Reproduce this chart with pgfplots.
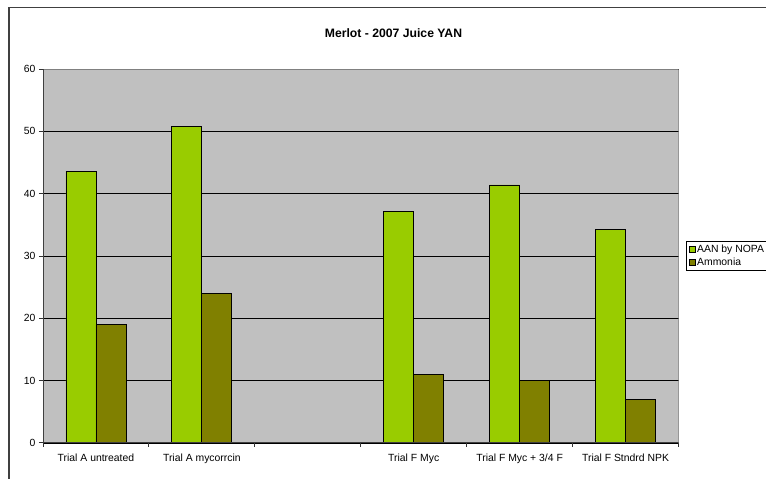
\documentclass[border=0pt]{standalone}
\usepackage{fontspec}
\setmainfont{Liberation Sans}
\usepackage{pgfplots}
\pgfplotsset{compat=1.18}
\definecolor{aangreen}{HTML}{99CC00}
\definecolor{ammolive}{HTML}{808000}
\definecolor{plotgray}{HTML}{C0C0C0}
\definecolor{bordergray}{HTML}{808080}

\begin{document}
\begin{tikzpicture}
\useasboundingbox (0bp,0bp) rectangle (766bp,479bp);
\fill[white] (0bp,0bp) rectangle (766bp,479bp);
% chart frame
\draw[line width=1.5bp, color=black!75] (9bp,-10bp) -- (9bp,471.5bp) -- (800bp,471.5bp);
% chart title
\node[anchor=base, inner sep=0pt, font=\bfseries\fontsize{12.2bp}{14bp}\selectfont]
  at (393.5bp,441.7bp) {Merlot - 2007 Juice YAN};
\begin{axis}[
  at={(43bp,36bp)}, anchor=south west,
  scale only axis, width=635.5bp, height=374bp,
  xmin=-0.5, xmax=5.5, ymin=0, ymax=60,
  ybar=0pt, bar width=30bp,
  xtick={-0.5,0.5,...,5.5},
  x tick label as interval,
  xticklabels={Trial A untreated, Trial A mycorrcin, {}, Trial F Myc, Trial F Myc + 3/4 F, Trial F Stndrd NPK},
  xticklabel style={yshift=-3bp},
  ytick={0,10,...,60},
  ymajorgrids,
  grid style={black, line width=0.8bp},
  axis background/.style={fill=plotgray},
  axis line style={draw=none},
  tick pos=left,
  tick align=outside,
  major tick length=4bp,
  tick style={black!80, line width=1bp},
  /pgf/number format/assume math mode=true,
  ticklabel style={font=\fontsize{10.4bp}{12bp}\selectfont},
  legend style={at={(1.0118,0.5409)}, anchor=north west, draw=black, line width=0.6bp,
    fill=white, font=\fontsize{10.4bp}{12bp}\selectfont,
    inner xsep=2.5bp, inner ysep=2.5bp, row sep=1.5bp,
    nodes={inner sep=1.3bp, anchor=west}},
  legend cell align=left,
  legend image code/.code={\draw[#1, line width=0.6bp] (0bp,-3bp) rectangle (6.5bp,3bp);},
]
\addplot[fill=aangreen, draw=black, line width=0.8bp]
  coordinates {(0,43.6) (1,50.8) (3,37.2) (4,41.4) (5,34.3)};
\addplot[fill=ammolive, draw=black, line width=0.8bp]
  coordinates {(0,19) (1,24) (3,11) (4,10) (5,7)};
\legend{AAN by NOPA, Ammonia}
% plot area border: grey on top and right, dark axes on left and bottom
\draw[bordergray, line width=1.5bp] (rel axis cs:0,1) -- (rel axis cs:1,1) -- (rel axis cs:1,0);
\draw[black!75, line width=1.5bp] (rel axis cs:0,1) -- (rel axis cs:0,0) -- (rel axis cs:1,0);
\end{axis}
\end{tikzpicture}
\end{document}
